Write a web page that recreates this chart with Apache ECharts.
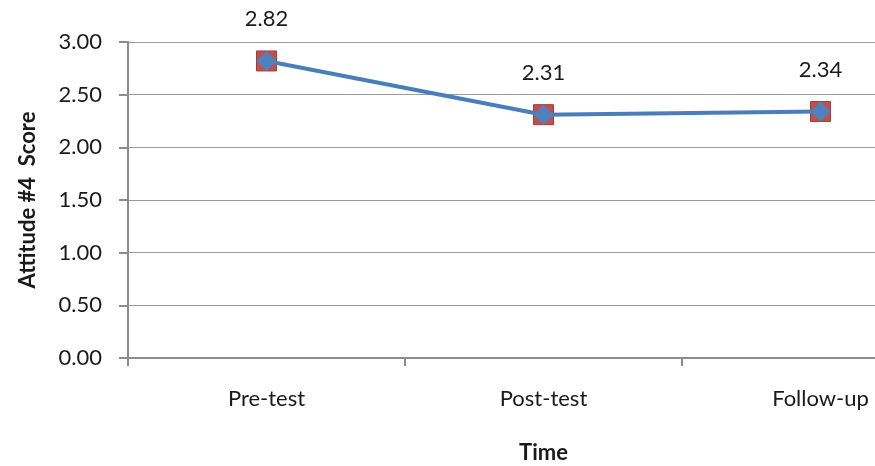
<!DOCTYPE html>
<html>
<head>
<meta charset="utf-8">
<script src="https://cdn.jsdelivr.net/npm/echarts@6/dist/echarts.min.js"></script>
<style>html,body{margin:0;padding:0;background:#fff}#c{width:875px;height:466px}</style>
</head>
<body>
<div id="c"></div>
<script>
const categories = ['Pre-test', 'Post-test', 'Follow-up'];
const scores = [2.82, 2.31, 2.34];
const yTicks = ['0.00', '0.50', '1.00', '1.50', '2.00', '2.50', '3.00'];

const FONT = 'Lato';
const chart = echarts.init(document.getElementById('c'), null, {renderer: 'canvas'});
chart.setOption({
  animation: false,
  backgroundColor: '#fff',
  grid: {left: 128, top: 42, width: 831, height: 316, containLabel: false, outerBoundsMode: 'none'},
  xAxis: {
    type: 'category',
    data: categories,
    boundaryGap: true,
    name: 'Time',
    nameLocation: 'middle',
    nameGap: 84,
    nameTextStyle: {fontFamily: FONT, fontWeight: 'bold', fontSize: 22, color: '#1a1a1a'},
    axisLine: {lineStyle: {color: '#8c8c8c', width: 2}},
    axisTick: {show: true, length: 8, lineStyle: {color: '#8c8c8c', width: 2}},
    axisLabel: {fontFamily: FONT, fontSize: 22, color: '#1a1a1a', margin: 30}
  },
  yAxis: {
    type: 'value',
    min: 0, max: 3, interval: 0.5,
    name: 'Attitude #4  Score',
    nameLocation: 'middle',
    nameGap: 89,
    nameTextStyle: {fontFamily: FONT, fontWeight: 'bold', fontSize: 22, color: '#1a1a1a'},
    axisLine: {show: true, lineStyle: {color: '#8c8c8c', width: 2}},
    axisTick: {show: true, length: 9, lineStyle: {color: '#8c8c8c', width: 2}},
    splitLine: {show: true, lineStyle: {color: '#9a9a9a', width: 1}},
    axisLabel: {fontFamily: FONT, fontSize: 22, color: '#1a1a1a', margin: 26,
      formatter: v => yTicks[Math.round(v / 0.5)]}
  },
  series: [
    {
      type: 'line',
      data: scores,
      symbol: 'rect',
      symbolSize: 20,
      lineStyle: {width: 0, opacity: 0},
      itemStyle: {color: '#c0504d', borderColor: '#a33d3a', borderWidth: 1},
      z: 2
    },
    {
      type: 'line',
      data: scores,
      symbol: 'diamond',
      symbolSize: 20,
      lineStyle: {width: 4, color: '#4a7ebb'},
      itemStyle: {color: '#4f81bd'},
      label: {show: true, position: 'top', distance: 21, fontFamily: FONT, fontSize: 22, color: '#1a1a1a',
        formatter: p => p.value.toFixed(2)},
      z: 3
    }
  ]
});
</script>
</body>
</html>
